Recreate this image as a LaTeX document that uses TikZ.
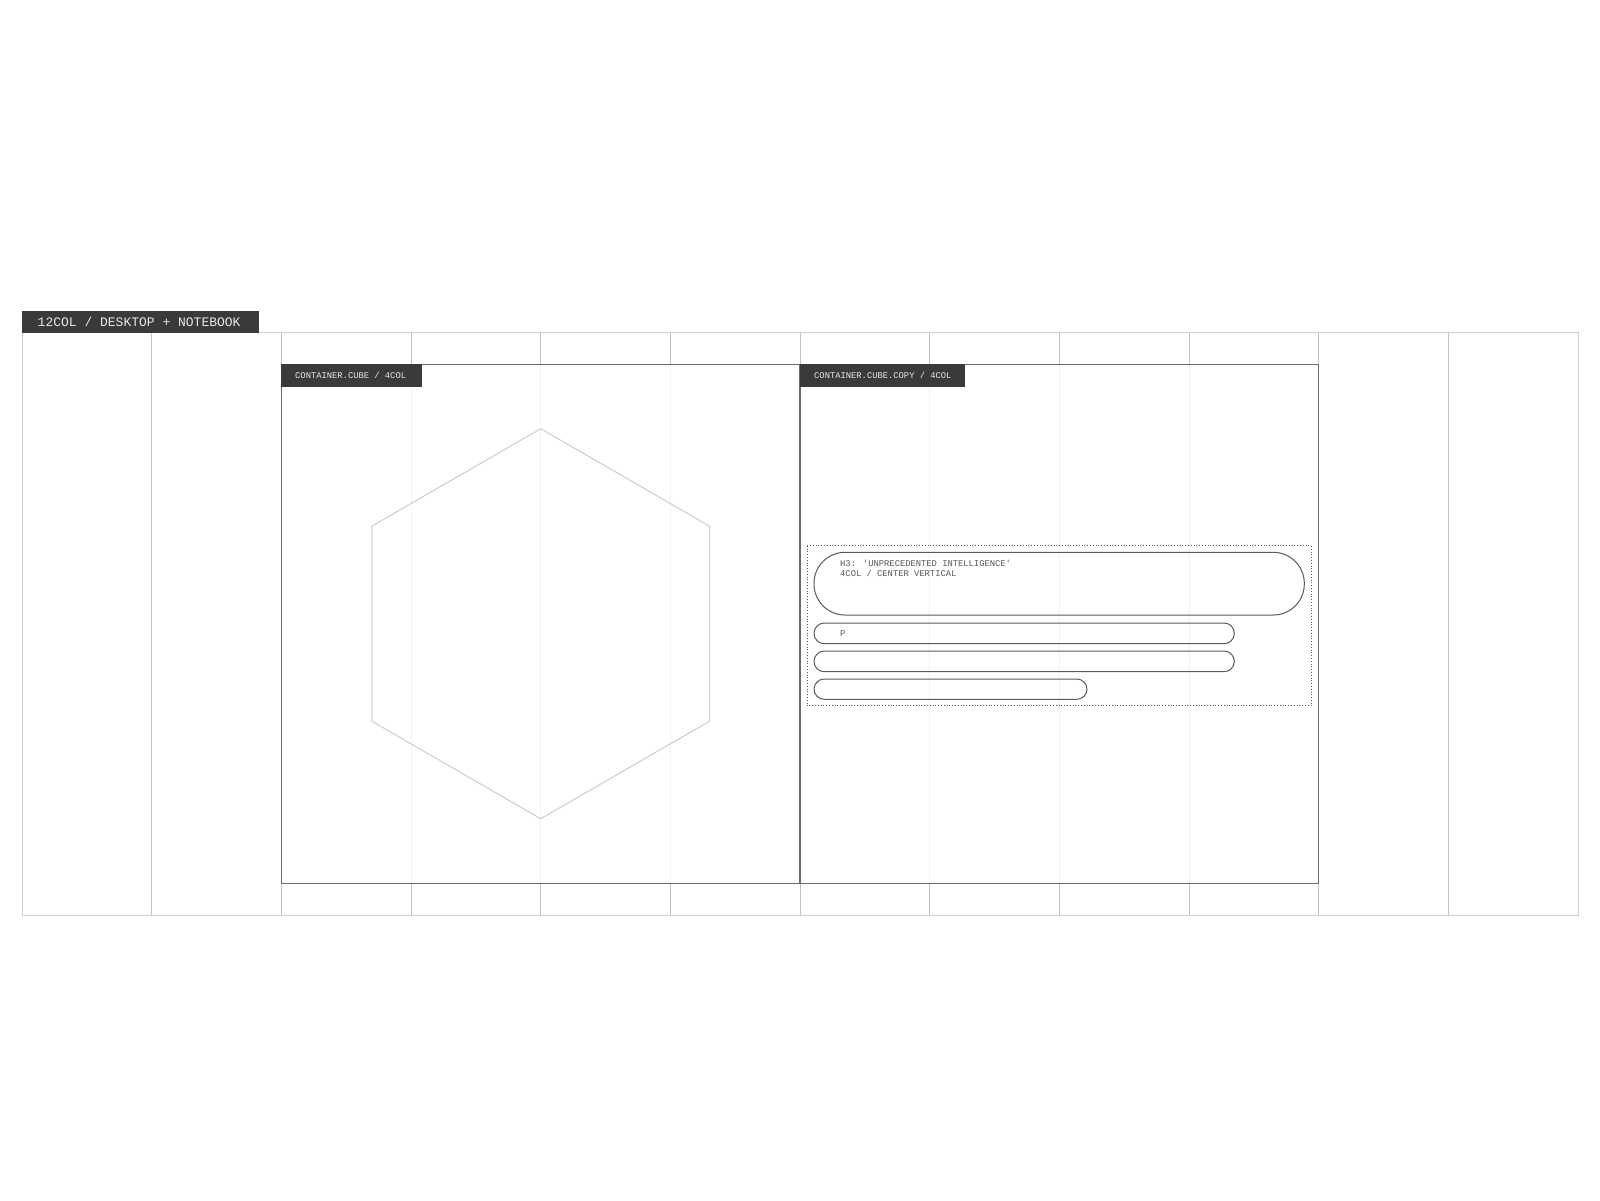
\documentclass[tikz,border=0pt]{standalone}
\usepackage{fontspec}
\newfontfamily\monof{Liberation Mono}
\definecolor{gridc}{HTML}{C2C2C2}
\definecolor{outerc}{HTML}{D0D0D0}
\definecolor{faintc}{HTML}{F2F2F2}
\definecolor{boxc}{HTML}{6A6A6A}
\definecolor{tagbg}{HTML}{3A3A3A}
\definecolor{tagfg}{HTML}{E8E8E8}
\definecolor{hexc}{HTML}{CDCDCD}
\definecolor{pillc}{HTML}{5A5A5A}
\definecolor{txtc}{HTML}{555555}
\tikzset{
  gridline/.style={draw=gridc, line width=1pt},
  outerline/.style={draw=outerc, line width=1pt},
  faintline/.style={draw=faintc, line width=0.8pt},
  container/.style={draw=boxc, line width=1.3pt},
  tagbox/.style={fill=tagbg, draw=none},
  bigtag/.style={anchor=west, inner sep=0pt, text=tagfg, font=\monof\fontsize{13}{13}\selectfont},
  smalltag/.style={anchor=west, inner sep=0pt, text=tagfg, font=\monof\fontsize{8.8}{8.8}\selectfont},
  hexline/.style={draw=hexc, line width=1pt, line join=miter},
  dotbox/.style={draw=pillc, line width=0.8pt, dotted},
  pill/.style={draw=pillc, line width=1pt},
  pilltext/.style={anchor=west, inner sep=0pt, text=txtc, font=\monof\fontsize{8.8}{10.3}\selectfont, align=left}
}
\begin{document}
\begin{tikzpicture}[x=1pt,y=-1pt]
\useasboundingbox (0,0) rectangle (1600,1200);
\fill[white] (0,0) rectangle (1600,1200);
% column grid
\foreach \i in {1,...,11}{
  \draw[gridline] ({22+129.667*\i},332.7) -- ({22+129.667*\i},915.5);
}
\draw[outerline] (22,332.7) rectangle (1578,915.5);
% containers (white fill, faint inner lines)
\fill[white] (281.3,364.3) rectangle (1318.7,883.3);
\foreach \x in {411,540.7,670.3,929.7,1059.3,1189}{
  \draw[faintline] (\x,364.3) -- (\x,883.3);
}
\draw[container] (281.3,364.3) rectangle (800,883.3);
\draw[container] (800,364.3) rectangle (1318.7,883.3);
% main tag
\fill[tagbox] (22,311) rectangle (259,332.7);
\node[bigtag] (maintag) at (37.5,322) {12COL / DESKTOP + NOTEBOOK};
% container tags
\fill[tagbox] (281.3,364.3) rectangle (421.7,386.7);
\node[smalltag] (tagA) at (295,375.5) {CONTAINER.CUBE / 4COL};
\fill[tagbox] (800,364.3) rectangle (965,386.7);
\node[smalltag] (tagB) at (814,375.5) {CONTAINER.CUBE.COPY / 4COL};
% hexagon
\draw[hexline] (540.7,428.7) -- (709.6,526.2) -- (709.6,721.2) -- (540.7,818.7)
  -- (371.8,721.2) -- (371.8,526.2) -- cycle;
% dotted text container
\draw[dotbox] (807,545.7) rectangle (1311,705.8);
% pills
\draw[pill, rounded corners=31pt] (814,552.3) rectangle (1304.3,615);
\node[pilltext, anchor=north west] (h3) at (840,560) {H3: 'UNPRECEDENTED INTELLIGENCE'\\4COL / CENTER VERTICAL};
\draw[pill, rounded corners=10.3pt] (814,623) rectangle (1234.3,643.7);
\node[pilltext] (ptext) at (840,633.3) {P};
\draw[pill, rounded corners=10.3pt] (814,651) rectangle (1234.3,671.7);
\draw[pill, rounded corners=10.2pt] (814,679) rectangle (1087,699.3);
\end{tikzpicture}
\end{document}
